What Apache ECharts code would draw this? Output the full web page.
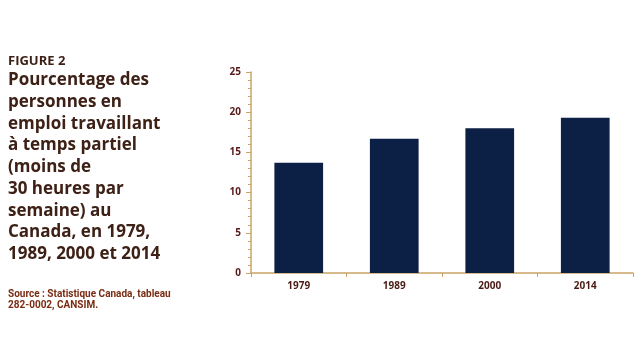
<!DOCTYPE html>
<html>
<head>
<meta charset="utf-8">
<script src="https://cdn.jsdelivr.net/npm/echarts@6/dist/echarts.min.js"></script>
<style>html,body{margin:0;padding:0;background:#fff}#c{width:635px;height:357px}</style>
</head>
<body>
<div id="c"></div>
<script>
var categories = ['1979', '1989', '2000', '2014'];
var values = [13.7, 16.7, 18.0, 19.3];
var yTicks = [0, 5, 10, 15, 20, 25];
var figureLabel = 'FIGURE 2';
var titleLines = ['Pourcentage des', 'personnes en', 'emploi travaillant', 'à temps partiel', '(moins de', '30 heures par', 'semaine) au', 'Canada, en 1979,', '1989, 2000 et 2014'];
var sourceLines = ['Source : Statistique Canada, tableau', '282-0002, CANSIM.'];

var chart = echarts.init(document.getElementById('c'), null, {renderer: 'canvas'});
var axisColor = '#c9a465';
var graphics = [];
graphics.push({type: 'text', left: 8, top: 55, style: {text: figureLabel, font: 'bold 13px "Open Sans"', fill: '#3d2016'}});
titleLines.forEach(function (t, i) {
  graphics.push({type: 'text', left: 8, top: 72 + i * 21.7, style: {text: t, font: 'bold 17px "Open Sans"', fill: '#3d2016'}});
});
sourceLines.forEach(function (t, i) {
  graphics.push({type: 'text', left: 8, top: 289 + i * 11, style: {text: t, font: 'bold 10px "Liberation Sans Narrow", "Roboto", sans-serif', fill: '#7a2c12'}});
});

chart.setOption({
  animation: false,
  grid: {left: 251, right: 2, top: 72, bottom: 84, containLabel: false},
  graphic: graphics,
  xAxis: {
    type: 'category',
    data: categories,
    axisLine: {lineStyle: {color: axisColor, width: 1.5}},
    axisTick: {show: true, length: 4, lineStyle: {color: axisColor}},
    axisLabel: {color: '#4a1a14', fontWeight: 'bold', fontSize: 10, margin: 8, fontFamily: 'Open Sans'}
  },
  yAxis: {
    type: 'value',
    min: yTicks[0],
    max: yTicks[yTicks.length - 1],
    interval: 5,
    axisLine: {show: true, lineStyle: {color: axisColor, width: 1.5}},
    axisTick: {show: true, length: 5, lineStyle: {color: axisColor}},
    minorTick: {show: true, splitNumber: 5, length: 3, lineStyle: {color: axisColor}},
    splitLine: {show: false},
    axisLabel: {color: '#5a1a1a', fontWeight: 'bold', fontSize: 10, margin: 10, fontFamily: 'Open Sans'}
  },
  series: [{
    type: 'bar',
    data: values,
    barWidth: '51%',
    itemStyle: {color: '#0c1f44'}
  }]
});
</script>
</body>
</html>
